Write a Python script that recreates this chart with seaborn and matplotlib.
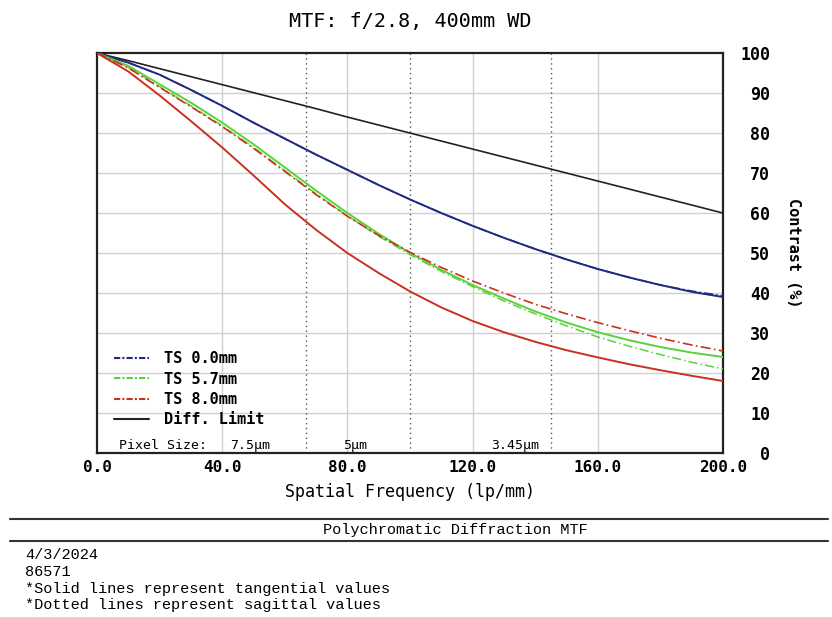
import numpy as np
import pandas as pd
import matplotlib
matplotlib.use("Agg")
import matplotlib.pyplot as plt
import seaborn as sns
from matplotlib.lines import Line2D

# spatial frequency (lp/mm)
freq = [0, 10, 20, 30, 40, 50, 60, 70, 80, 90, 100,
        110, 120, 130, 140, 150, 160, 170, 180, 190, 200]

diff_limit = [100, 98.1, 96.1, 94.1, 92.1, 90.1, 88.1, 86.1, 84.0, 82.0, 80.0,
              78.0, 76.0, 74.0, 72.0, 70.0, 68.0, 66.0, 64.0, 62.0, 60.0]
ts00_t = [100, 97.6, 94.6, 90.8, 86.8, 82.6, 78.6, 74.6, 70.8, 67.0, 63.4,
          60.0, 56.8, 53.8, 51.0, 48.4, 46.0, 43.9, 42.0, 40.3, 39.0]
ts00_s = [100, 97.6, 94.6, 90.8, 86.8, 82.6, 78.6, 74.6, 70.8, 67.0, 63.4,
          60.0, 56.8, 53.8, 51.0, 48.4, 46.0, 43.9, 42.0, 40.5, 39.3]
ts57_t = [100, 96.8, 92.2, 87.6, 82.6, 77.2, 71.4, 65.6, 60.0, 54.8, 50.0,
          45.8, 42.0, 38.6, 35.4, 32.6, 30.2, 28.2, 26.5, 25.1, 24.0]
ts57_s = [100, 96.4, 91.6, 86.8, 81.8, 76.4, 70.6, 64.8, 59.3, 54.2, 49.6,
          45.4, 41.6, 38.0, 34.8, 31.8, 29.0, 26.7, 24.6, 22.7, 21.0]
ts80_t = [100, 95.4, 89.4, 83.0, 76.4, 69.4, 62.2, 55.8, 50.0, 45.0, 40.4,
          36.4, 33.0, 30.2, 27.8, 25.7, 23.9, 22.2, 20.7, 19.3, 18.0]
ts80_s = [100, 96.3, 91.4, 86.6, 81.6, 76.2, 70.4, 64.6, 59.2, 54.4, 50.2,
          46.4, 43.0, 40.0, 37.2, 34.8, 32.6, 30.6, 28.7, 27.0, 25.5]

pixel_freqs = [66.7, 100.0, 144.9]
pixel_labels = ["7.5µm", "5µm", "3.45µm"]
pixel_label_x = [49, 82.5, 133.5]

legend_labels = ["TS 0.0mm", "TS 5.7mm", "TS 8.0mm", "Diff. Limit"]
legend_colors = ["#1f2a80", "#5ad23c", "#c8321e", "#222222"]

mono = "DejaVu Sans Mono"
sns.set_style("white")
plt.rcParams['font.family'] = [mono]
plt.rcParams['text.color'] = "black"
plt.rcParams['axes.labelcolor'] = "black"
plt.rcParams['xtick.color'] = "black"
plt.rcParams['ytick.color'] = "black"

fig = plt.figure(figsize=(8.32, 6.17), dpi=100)
ax = fig.add_axes([0.1166, 0.2658, 0.7524, 0.6482])

# grid
for v in [40, 80, 120, 160]:
    ax.axvline(v, color="#d0d0d0", lw=1, zorder=0)
for v in range(10, 100, 10):
    ax.axhline(v, color="#d0d0d0", lw=1, zorder=0)
for v in pixel_freqs:
    ax.axvline(v, color="#555555", lw=1, ls=(0, (1, 2.5)), zorder=1)

series = [
    (diff_limit, "#222222", "-", 1.2),
    (ts00_s, "#1f2a80", (0, (6, 2, 1, 2)), 1.1),
    (ts00_t, "#1f2a80", "-", 1.4),
    (ts57_s, "#5ad23c", (0, (6, 2, 1, 2)), 1.1),
    (ts57_t, "#5ad23c", "-", 1.4),
    (ts80_s, "#c8321e", (0, (6, 2, 1, 2)), 1.2),
    (ts80_t, "#c8321e", "-", 1.4),
]
for vals, c, ls, lw in series:
    df = pd.DataFrame({"freq": freq, "mtf": vals})
    sns.lineplot(data=df, x="freq", y="mtf", color=c, linestyle=ls, lw=lw, ax=ax, zorder=3)

ax.set_xlim(0, 200)
ax.set_ylim(0, 100)
ax.set_xticks([0, 40, 80, 120, 160, 200])
ax.set_xticklabels(["0.0", "40.0", "80.0", "120.0", "160.0", "200.0"],
                   fontweight="bold", fontsize=11.5)
ax.set_yticks(range(0, 101, 10))
ax.yaxis.tick_right()
ax.yaxis.set_label_position("right")
ax.set_yticklabels([str(v) for v in range(0, 101, 10)], fontweight="bold", fontsize=12,
                   ha="right")
ax.tick_params(axis="y", length=0, pad=34)
ax.tick_params(axis="x", length=0, pad=5)
for s in ax.spines.values():
    s.set_color("#222222")
    s.set_linewidth(1.6)
ax.set_xlabel("Spatial Frequency (lp/mm)", fontsize=12, labelpad=6)
ax.set_ylabel("Contrast (%)", fontsize=11, fontweight="bold", rotation=270, labelpad=22)
ax.set_title("MTF: f/2.8, 400mm WD", fontsize=14.5, pad=19)

# pixel size row
ax.text(7, 2, "Pixel Size:", fontsize=9.5, ha="left", va="center", zorder=5)
for x, lab in zip(pixel_label_x, pixel_labels):
    ax.text(x, 2, lab, fontsize=9.5, ha="center", va="center", zorder=5)

handles = [Line2D([], [], color=c, lw=1.5, ls=(0, (3, 1, 1, 1)) if i < 3 else "-")
           for i, c in enumerate(legend_colors)]
ax.legend(handles, legend_labels, loc="lower left", bbox_to_anchor=(0.005, 0.03),
          frameon=False, handlelength=2.3, labelspacing=0.35, handletextpad=1.0,
          prop={"family": mono, "weight": "bold", "size": 11})

# footer
fig.add_artist(Line2D([0.012, 0.995], [1 - 519 / 617] * 2, color="#333333", lw=1.5))
fig.add_artist(Line2D([0.012, 0.995], [1 - 541 / 617] * 2, color="#333333", lw=1.5))
fig.text(455 / 832, 1 - 530 / 617, "Polychromatic Diffraction MTF", ha="center", va="center",
         fontsize=11, family="Liberation Mono")
footer = ["4/3/2024", "86571", "*Solid lines represent tangential values",
          "*Dotted lines represent sagittal values"]
for i, line in enumerate(footer):
    fig.text(25 / 832, 1 - (555 + 16.8 * i) / 617, line, ha="left", va="center",
             fontsize=11, family="Liberation Mono")

fig.savefig("out.png", dpi=100)
